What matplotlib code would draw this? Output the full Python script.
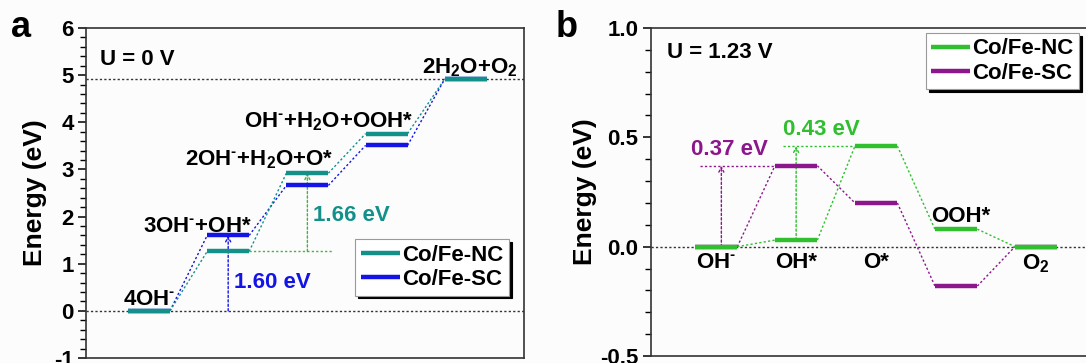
import matplotlib
matplotlib.use("Agg")
import matplotlib.pyplot as plt
from matplotlib.ticker import MultipleLocator

plt.rcParams['font.family'] = ['Liberation Sans', 'DejaVu Sans']
plt.rcParams['font.weight'] = 'bold'
plt.rcParams['axes.labelweight'] = 'bold'
plt.rcParams['mathtext.fontset'] = 'custom'
plt.rcParams['mathtext.rm'] = 'Liberation Sans:bold'
plt.rcParams['mathtext.it'] = 'Liberation Sans:bold'
plt.rcParams['mathtext.bf'] = 'Liberation Sans:bold'
plt.rcParams['mathtext.default'] = 'rm'
plt.rcParams['axes.unicode_minus'] = False

# free energies of the OER steps (eV)
steps_a = ['4OH$^{\\text{-}}$', '3OH$^{\\text{-}}$+OH*', '2OH$^{\\text{-}}$+H$_2$O+O*',
           'OH$^{\\text{-}}$+H$_2$O+OOH*', '2H$_2$O+O$_2$']
nc_u0 = [0.0, 1.26, 2.92, 3.76, 4.92]
sc_u0 = [0.0, 1.60, 2.66, 3.51, 4.92]

steps_b = ['OH$^{\\text{-}}$', 'OH*', 'O*', 'OOH*', 'O$_2$']
nc_u123 = [0.0, 0.03, 0.46, 0.08, 0.0]
sc_u123 = [0.0, 0.37, 0.20, -0.18, 0.0]

series_names = ['Co/Fe-NC', 'Co/Fe-SC']
teal, blue = '#13908a', '#1414e6'
green, purple = '#2fbf2f', '#8c168c'
arrow_green = '#3cb83c'

W = 0.53          # width of a level bar
dot = (0, (1.6, 1.6))


def draw_levels(ax, vals, color, label):
    handle = None
    for i, v in enumerate(vals):
        ln, = ax.plot([i, i + W], [v, v], color=color, lw=3.2,
                      solid_capstyle='butt', label=label, zorder=3)
        handle = handle or ln
        if i + 1 < len(vals):
            ax.plot([i + W, i + 1], [v, vals[i + 1]], color=color, lw=1.0,
                    ls=dot, zorder=2)
    return handle


def up_arrow(ax, x, y0, y1, color):
    ax.annotate('', xy=(x, y1), xytext=(x, y0),
                arrowprops=dict(arrowstyle='->,head_length=0.35,head_width=0.18',
                                color=color, lw=1.0, ls=dot,
                                shrinkA=0, shrinkB=0), zorder=2)


def style_axis(ax):
    for s in ax.spines.values():
        s.set_color('#333333')
        s.set_linewidth(1.2)
    ax.set_xticks([])
    ax.tick_params(axis='y', which='major', direction='out', length=6,
                   width=1.1, labelsize=16, pad=3)
    ax.tick_params(axis='y', which='minor', direction='out', length=4, width=1.0)
    ax.set_facecolor('#fcfcfc')


def add_legend(ax, handles, anchor):
    leg = ax.legend(handles, series_names, loc='upper left', bbox_to_anchor=anchor,
                    fontsize=16, handlelength=1.75, handletextpad=0.1,
                    borderpad=0.25, labelspacing=0.15, borderaxespad=0,
                    fancybox=False, shadow={'color': 'black', 'alpha': 1.0},
                    framealpha=1)
    leg.get_frame().set_edgecolor('#999999')
    leg.get_frame().set_linewidth(0.8)


fig = plt.figure(figsize=(10.86, 3.63), dpi=100, facecolor='#fcfcfc')

# ---- a: U = 0 V
ax1 = fig.add_axes([0.0792, 0.0138, 0.4033, 0.909])
style_axis(ax1)
ax1.set_xlim(-0.53, 5.0)
ax1.set_ylim(-1, 6)
ax1.yaxis.set_major_locator(MultipleLocator(1))
ax1.yaxis.set_minor_locator(MultipleLocator(0.2))
ax1.axhline(0, color='#333333', lw=1.0, ls=dot, zorder=1)
ax1.axhline(nc_u0[-1], color='#333333', lw=1.0, ls=dot, zorder=1)

# SC first so the NC bars sit on top where the two coincide
h_sc = draw_levels(ax1, sc_u0, blue, series_names[1])
h_nc = draw_levels(ax1, nc_u0, teal, series_names[0])

# limiting steps
up_arrow(ax1, 1 + W / 2, sc_u0[0], sc_u0[1], blue)
ax1.plot([1 + W, 2.58], [nc_u0[1], nc_u0[1]], color=arrow_green, lw=1.0, ls=dot)
up_arrow(ax1, 2 + W / 2, nc_u0[1], nc_u0[2], arrow_green)
ax1.text(1.34, 0.6, f'{sc_u0[1] - sc_u0[0]:.2f} eV', color=blue,
         fontsize=16, va='center')
ax1.text(2.33, 2.03, f'{nc_u0[2] - nc_u0[1]:.2f} eV', color=teal,
         fontsize=16, va='center')

ax1.text(W / 2, 0.13, steps_a[0], fontsize=16, ha='center', va='baseline')
ax1.text(1 + W + 0.03, sc_u0[1] + 0.08, steps_a[1], fontsize=16, ha='right', va='baseline')
ax1.text(2 + W + 0.06, nc_u0[2] + 0.17, steps_a[2], fontsize=16, ha='right', va='baseline')
ax1.text(3 + W + 0.08, nc_u0[3] + 0.13, steps_a[3], fontsize=16, ha='right', va='baseline')
ax1.text(4 + W / 2 + 0.05, nc_u0[4] + 0.11, steps_a[4], fontsize=16, ha='center', va='baseline')
ax1.text(0.032, 0.905, 'U = 0 V', transform=ax1.transAxes, fontsize=16, va='center')

ax1.set_ylabel('Energy (eV)', fontsize=19, labelpad=5)
add_legend(ax1, [h_nc, h_sc], (0.615, 0.36))

# ---- b: U = 1.23 V
ax2 = fig.add_axes([0.5994, 0.0193, 0.4162, 0.9036])
style_axis(ax2)
ax2.set_xlim(-0.55, 5.1)
ax2.set_ylim(-0.5, 1.0)
ax2.yaxis.set_major_locator(MultipleLocator(0.5))
ax2.yaxis.set_minor_locator(MultipleLocator(0.1))
ax2.yaxis.set_major_formatter(plt.FormatStrFormatter('%.1f'))
ax2.axhline(0, color='#333333', lw=1.0, ls=dot, zorder=1)

h_sc = draw_levels(ax2, sc_u123, purple, series_names[1])
h_nc = draw_levels(ax2, nc_u123, green, series_names[0])

ax2.plot([0.06, 1.0], [sc_u123[1], sc_u123[1]], color=purple, lw=1.0, ls=dot)
up_arrow(ax2, 0.33, 0.0, sc_u123[1], purple)
ax2.plot([1.1, 2.0], [nc_u123[2], nc_u123[2]], color=green, lw=1.0, ls=dot)
up_arrow(ax2, 1 + W / 2, nc_u123[1], nc_u123[2], green)
ax2.text(-0.05, 0.445, f'{sc_u123[1] - sc_u123[0]:.2f} eV', color=purple,
         fontsize=16, va='center')
ax2.text(1.1, 0.537, f'{nc_u123[2] - nc_u123[1]:.2f} eV', color=green,
         fontsize=16, va='center')

for i, name in enumerate(steps_b):
    if i == 3:
        ax2.text(i + W / 2 + 0.06, 0.115, name, fontsize=16, ha='center', va='baseline')
    else:
        ax2.text(i + W / 2, -0.025, name, fontsize=16, ha='center', va='top')
ax2.text(0.035, 0.924, 'U = 1.23 V', transform=ax2.transAxes, fontsize=16, va='center')

ax2.set_ylabel('Energy (eV)', fontsize=19, labelpad=2)
add_legend(ax2, [h_nc, h_sc], (0.608, 0.985))

fig.text(11 / 1086, 1 - 37 / 363, 'a', fontsize=26, va='baseline')
fig.text(556 / 1086, 1 - 37 / 363, 'b', fontsize=26, va='baseline')

fig.savefig('out.png', dpi=100, facecolor=fig.get_facecolor())
